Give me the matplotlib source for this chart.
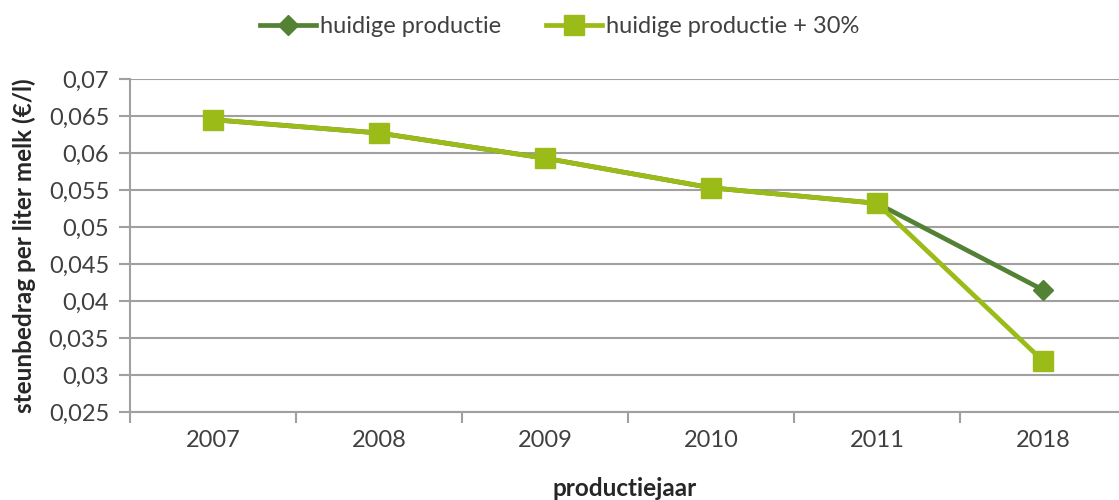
import matplotlib
matplotlib.use("Agg")
import matplotlib.pyplot as plt
from matplotlib.ticker import FixedLocator, FuncFormatter

plt.rcParams['font.family'] = ['Lato', 'DejaVu Sans']

# data
jaren = ['2007', '2008', '2009', '2010', '2011', '2018']
huidig = [0.0645, 0.0627, 0.0593, 0.0553, 0.0532, 0.0415]
plus30 = [0.0645, 0.0627, 0.0593, 0.0553, 0.0532, 0.0319]
yticks = [0.025, 0.03, 0.035, 0.04, 0.045, 0.05, 0.055, 0.06, 0.065, 0.07]

donker = '#548235'
licht = '#9bbb19'
grijs = '#a0a0a0'
tekst = '#404040'

fig = plt.figure(figsize=(11.19, 5.0), dpi=100)
ax = fig.add_axes([0.1162, 0.176, 0.8838, 0.666])

x = list(range(len(jaren)))
ax.plot(x, huidig, color=donker, lw=3.4, marker='D', ms=10.5,
        label='huidige productie', zorder=3)
ax.plot(x, plus30, color=licht, lw=3.4, marker='s', ms=15,
        label='huidige productie + 30%', zorder=4)

ax.set_ylim(0.025, 0.07)
ax.set_xlim(-0.5, 5.458)
ax.set_yticks(yticks)
ax.yaxis.set_major_formatter(FuncFormatter(lambda v, p: f'{v:g}'.replace('.', ',')))
ax.set_xticks(x)
ax.set_xticklabels(jaren)
ax.xaxis.set_minor_locator(FixedLocator([i - 0.5 for i in range(len(jaren) + 1)]))

ax.grid(axis='y', color=grijs, lw=1.5, zorder=0)
for s in ['top', 'right']:
    ax.spines[s].set_visible(False)
for s in ['left', 'bottom']:
    ax.spines[s].set_color(grijs)
    ax.spines[s].set_linewidth(1.5)

ax.tick_params(axis='y', length=8, width=1.5, color=grijs, labelsize=17,
               labelcolor=tekst, pad=7)
ax.tick_params(axis='x', which='major', length=0, labelsize=17,
               labelcolor=tekst, pad=13)
ax.tick_params(axis='x', which='minor', length=8, width=1.5, color=grijs)

ax.set_ylabel('steunbedrag per liter melk (€/l)', fontsize=17.5, fontweight='bold',
              color='#262626', labelpad=9)
ax.set_xlabel('productiejaar', fontsize=17.5, fontweight='bold', color='#262626',
              labelpad=19)

fig.legend(loc='upper center', bbox_to_anchor=(0.5, 1.01), ncol=2, frameon=False,
           fontsize=17, handlelength=2.4, handletextpad=0.15, columnspacing=1.9,
           labelcolor=tekst)

fig.savefig('out.png', dpi=100)
